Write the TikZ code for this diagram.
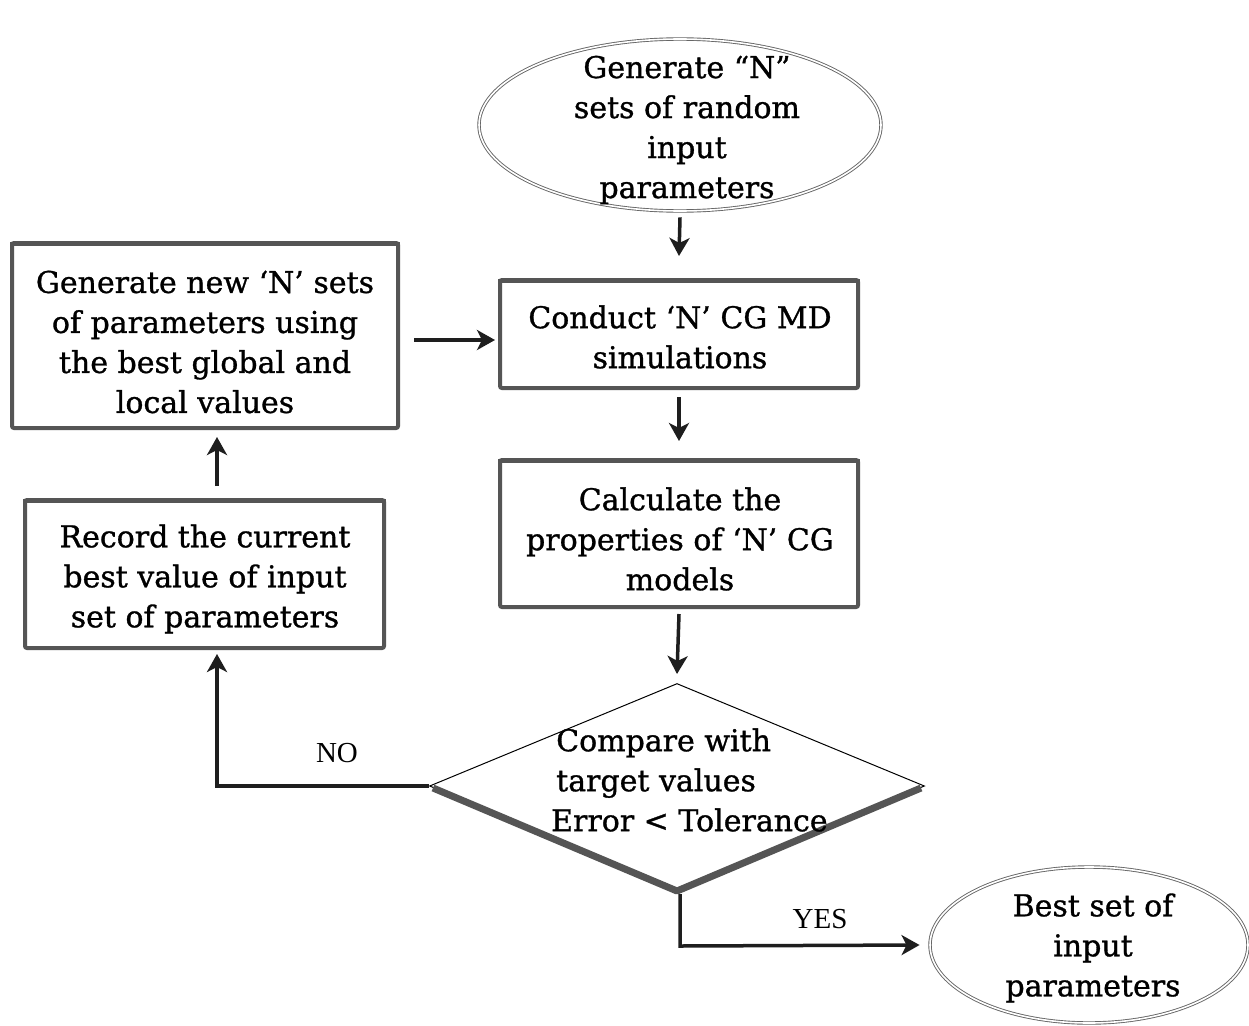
\documentclass[tikz,border=0pt]{standalone}
\usepackage{fontspec}
\setmainfont{DejaVu Serif}[FakeBold=1.0]
\newfontfamily\lblfont{Liberation Serif}
\usetikzlibrary{shapes.geometric,arrows.meta}
\definecolor{boxgray}{RGB}{85,85,85}
\definecolor{linegray}{RGB}{30,30,30}
\begin{document}
\begin{tikzpicture}[x=1pt,y=-1pt,
  txt/.style={font=\fontsize{30}{40}\selectfont, align=center, inner sep=0pt},
  lbl/.style={font=\lblfont\fontsize{29}{32}\selectfont, inner sep=0pt},
  bevel/.style={draw=boxgray, line width=4pt, fill=white, rounded corners=2pt, inner sep=0pt},
  oval/.style={ellipse, draw=gray!80!black, double=white, double distance=1.6pt, line width=0.9pt, fill=white, inner sep=0pt},
  arr/.style={draw=linegray, line width=3.5pt, -{Stealth[length=18pt,width=20pt,inset=5pt]}},
  topedge/.style={draw=boxgray, line width=4pt},
]
\useasboundingbox (0,0) rectangle (1249,1025);
\fill[white] (0,0) rectangle (1249,1025);

% top ellipse
\node[oval, minimum width=402pt, minimum height=172pt] (start) at (680,125) {};
\node[txt] (starttxt) at (687,130) {Generate “N”\\sets of random\\input\\parameters};

% boxes
\node[bevel, minimum width=358pt, minimum height=108pt] (conduct) at (679,334) {};
\draw[topedge] ([yshift=-3pt]conduct.north west) -- ([yshift=-3pt]conduct.north east);
\node[txt] (conducttxt) at (680,337) {Conduct ‘N’ CG MD\\simulations};

\node[bevel, minimum width=386pt, minimum height=185pt] (gen) at (205,335.5) {};
\draw[topedge] ([yshift=-3pt]gen.north west) -- ([yshift=-3pt]gen.north east);
\node[txt] (gentxt) at (205,342) {Generate new ‘N’ sets\\of parameters using\\the best global and\\local values};

\node[bevel, minimum width=358pt, minimum height=147pt] (calc) at (679,533.5) {};
\draw[topedge] ([yshift=-3pt]calc.north west) -- ([yshift=-3pt]calc.north east);
\node[txt] (calctxt) at (680,539) {Calculate the\\properties of ‘N’ CG\\models};

\node[bevel, minimum width=359pt, minimum height=148pt] (rec) at (204.5,574) {};
\draw[topedge] ([yshift=-3pt]rec.north west) -- ([yshift=-3pt]rec.north east);
\node[txt] (rectxt) at (205,579) {Record the current\\best value of input\\set of parameters};

% diamond
\node[diamond, draw=black, line width=1pt, fill=white, inner sep=0pt, minimum width=495pt, minimum height=205pt] (cmp) at (677,786) {};
\draw[boxgray, line width=7pt, line join=round] ([xshift=4pt,yshift=-2pt]cmp.west) -- ([yshift=-2pt]cmp.south) -- ([xshift=-4pt,yshift=-2pt]cmp.east);
\node[txt, align=left, anchor=west] (cmptxt) at (551,780) {\,Compare with\\\,target values\\Error < Tolerance};

% end ellipse
\node[oval, minimum width=318pt, minimum height=156pt] (best) at (1089,945) {};
\node[txt] (besttxt) at (1093,948) {Best set of\\input\\parameters};

% connectors
\draw[arr] ([yshift=-6pt]start.south) -- ([yshift=22pt]conduct.north);
\draw[arr] ([xshift=14pt]gen.east |- 0,340) -- ([xshift=-3pt]conduct.west |- 0,340);
\draw[arr] ([yshift=-7pt]conduct.south) -- ([yshift=17pt]calc.north);
\draw[arr] ([yshift=-5pt]calc.south) -- ([yshift=9pt]cmp.north);
\draw[arr] (cmp.west) -| ([yshift=-4pt]rec.south -| 217,0);
\draw[arr] ([yshift=12pt]rec.north -| 217,0) -- ([yshift=-7pt]gen.south -| 217,0);
\coordinate (ybend) at (680,946);
\draw[arr] ([yshift=-5pt]cmp.south -| 680,0) -- (ybend) -- ([xshift=-10pt]best.west);

% labels
\node[lbl] (no) at (337,753) {NO};
\node[lbl] (yes) at (820,919) {YES};
\end{tikzpicture}
\end{document}
